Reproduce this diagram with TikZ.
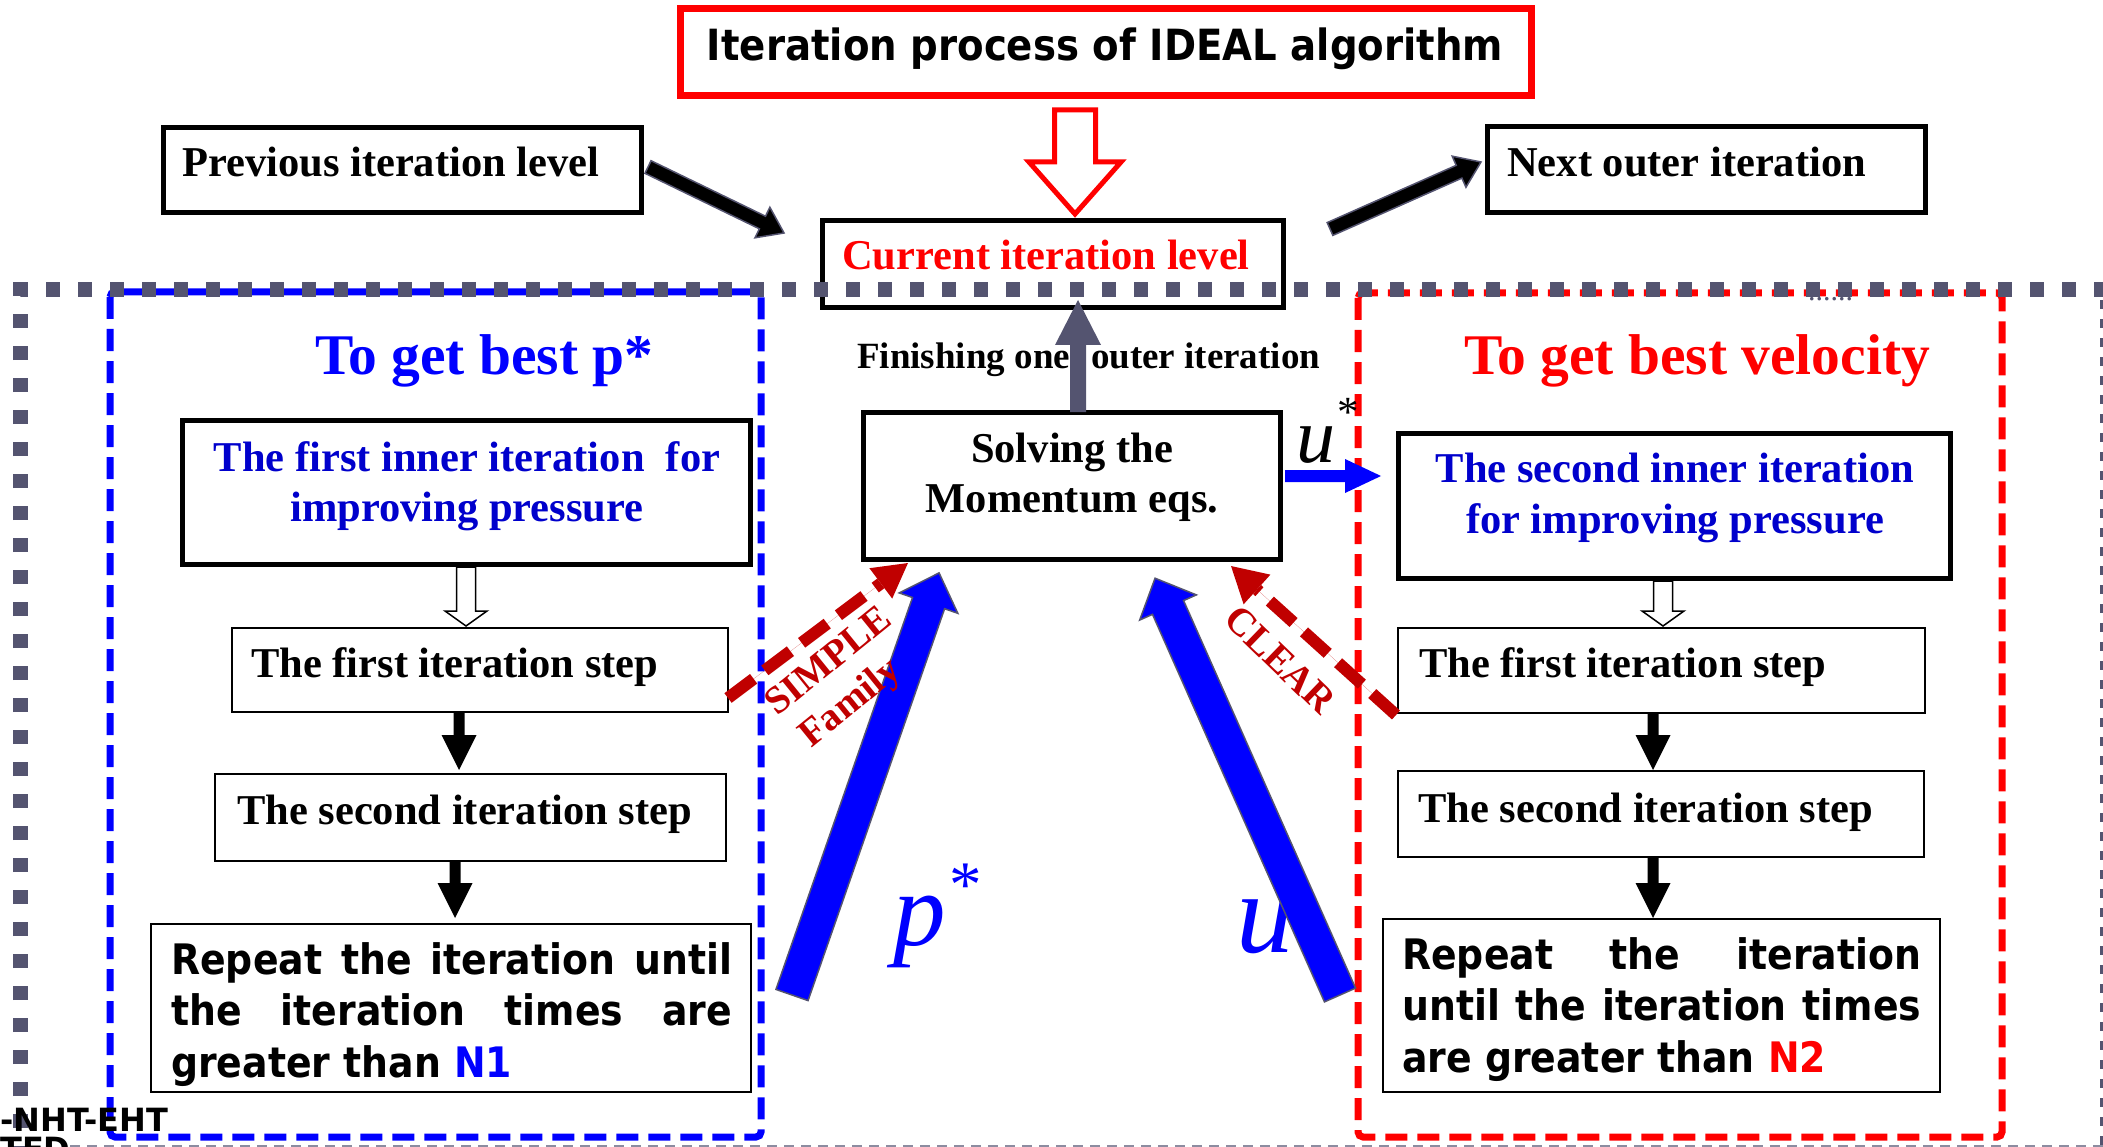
\documentclass[tikz,border=0pt]{standalone}
\usepackage{fontspec}
\setmainfont{Liberation Serif}
\newfontfamily\sansB[FakeStretch=0.9]{DejaVu Sans}
\newfontfamily\sansN{DejaVu Sans}
\usetikzlibrary{calc}
\definecolor{dotgray}{RGB}{84,84,112}
\definecolor{dred}{RGB}{192,0,0}
\definecolor{dblue}{RGB}{0,0,204}
\definecolor{lgray}{RGB}{140,140,160}
% block arrow: #1 style, #2 tail, #3 angle, #4 shaft half width, #5 length, #6 head half width, #7 head length
\newcommand\blk[7]{\path[#1,shift={(#2)},rotate=#3] (0,-#4) -- ({#5-#7},-#4) -- ({#5-#7},-#6) -- (#5,0) -- ({#5-#7},#6) -- ({#5-#7},#4) -- (0,#4) -- cycle;}
\begin{document}
\begin{tikzpicture}[x=1pt,y=-1pt,
  box/.style={draw=black, line width=5pt, fill=white, inner sep=0pt, rectangle},
  thinbox/.style={draw=black, line width=2.5pt, fill=white, inner sep=0pt, rectangle},
  lbl/.style={inner sep=0pt, anchor=base west},
  serifB/.style={font={\fontsize{42.5}{50}\selectfont\bfseries}},
  sansT/.style={font={\sansB\bfseries\fontsize{42}{51.5}\selectfont}},
  bigT/.style={font={\fontsize{57.5}{60}\selectfont\bfseries}},
  rlabel/.style={font={\fontsize{39}{39}\selectfont\bfseries}, text=dred, inner sep=0pt},
  reddash/.style={dred, line width=12pt, dash pattern=on 32pt off 14pt},
  hollow/.style={fill=white, draw=black, line width=1.5pt},
  solid/.style={fill=black},
]
\useasboundingbox (0,0) rectangle (2103,1147);

% coloured dashed regions
\draw[blue, line width=7pt, dash pattern=on 22pt off 10pt, rounded corners=5pt] (110,292) rectangle (761,1137);
\draw[red, line width=7pt, dash pattern=on 22pt off 10pt, rounded corners=5pt] (1358,293) rectangle (2002,1137);

% boxes
\node[box, draw=red, line width=7pt, minimum width=851pt, minimum height=87pt] (title) at (1106,52) {};
\node[box, minimum width=478pt, minimum height=85pt] (prev) at (402.5,170) {};
\node[box, minimum width=461pt, minimum height=87pt] (cur) at (1053,264) {};
\node[box, minimum width=438pt, minimum height=86pt] (next) at (1706.5,169.5) {};
\node[box, minimum width=417pt, minimum height=147pt] (solve) at (1072,486) {};
\node[box, minimum width=568pt, minimum height=144pt] (in1) at (466.5,492.5) {};
\node[box, minimum width=552pt, minimum height=145pt] (in2) at (1674.5,506) {};
\node[thinbox, minimum width=496pt, minimum height=84pt] (s1L) at (480,670) {};
\node[thinbox, minimum width=511pt, minimum height=87pt] (s2L) at (470.5,817.5) {};
\node[thinbox, minimum width=600pt, minimum height=168pt] (repL) at (451,1008) {};
\node[thinbox, minimum width=527pt, minimum height=85pt] (s1R) at (1661.5,670.5) {};
\node[thinbox, minimum width=526pt, minimum height=86pt] (s2R) at (1661,814) {};
\node[thinbox, minimum width=557pt, minimum height=173pt] (repR) at (1661.5,1005.5) {};

% outer gray dotted frame
\draw[dotgray, line width=15pt, dash pattern=on 14pt off 18pt] (20,1160) -- (20,290) -- (2115,290);
\draw[dotgray, line width=8pt, dash pattern=on 9pt off 10pt] (2104,300) -- (2104,1147);
\draw[lgray, line width=2pt, dash pattern=on 10pt off 7pt] (70,1146) -- (2103,1146);

% texts in boxes
\node[inner sep=0pt, anchor=base, font={\sansB\bfseries\fontsize{43}{50}\selectfont}] (titleT) at (1105,61) {Iteration process of IDEAL algorithm};
\node[lbl, serifB] (prevT) at (182,177) {Previous iteration level};
\node[lbl, serifB, text=red] (curT) at (842,270) {Current iteration level};
\node[lbl, serifB] (nextT) at (1507,177) {Next outer iteration};
\node[lbl, font={\fontsize{37}{44}\selectfont\bfseries}] (finT) at (857,368) {Finishing one\hspace{21pt}outer iteration};
\node[inner sep=0pt, anchor=north, align=center, serifB] (solveT) at (1072,433) {Solving the\\Momentum eqs.};
\node[inner sep=0pt, anchor=north, align=center, serifB, text=dblue] (in1T) at (467,441) {The first inner iteration\ \ for\\improving pressure};
\node[inner sep=0pt, anchor=north, align=center, font={\fontsize{42.5}{51}\selectfont\bfseries}, text=dblue] (in2T) at (1675,453) {The second inner iteration\\for improving pressure};
\node[lbl, serifB] (s1LT) at (251,677) {The first iteration step};
\node[lbl, serifB] (s2LT) at (237,824) {The second iteration step};
\node[lbl, serifB] (s1RT) at (1419,677) {The first iteration step};
\node[lbl, serifB] (s2RT) at (1418,822) {The second iteration step};
\node[inner sep=0pt, anchor=north west, align=left, sansT] (repLT) at (171,942)
  {\makebox[561pt][s]{Repeat the iteration until}\\\makebox[561pt][s]{the iteration times are}\\greater than \textcolor{blue}{N1}};
\node[inner sep=0pt, anchor=north west, align=left, sansT] (repRT) at (1402,937)
  {\makebox[519pt][s]{Repeat the iteration}\\\makebox[519pt][s]{until the iteration times}\\are greater than \textcolor{red}{N2}};
\node[lbl, bigT, text=blue] (tpT) at (315,374) {To get best p*};
\node[lbl, bigT, text=red] (tvT) at (1464,374) {To get best velocity};
\node[lbl, font={\fontsize{30}{30}\selectfont}, text=dotgray] (dotsT) at (1808,301) {......};
\node[lbl, font={\sansN\bfseries\fontsize{32}{32}\selectfont}] (wm1) at (0,1131) {-NHT-EHT};
\node[lbl, font={\sansN\bfseries\fontsize{32}{32}\selectfont}] (wm2) at (0,1160) {TED};

% big italic labels (under arrows)
\node[lbl, font={\fontsize{105}{105}\selectfont\itshape}, text=blue] (pT) at (893,945) {p};
\node[inner sep=0pt, font={\fontsize{65}{65}\selectfont}, text=blue] (pAst) at (966,885) {*};
\node[lbl, font={\fontsize{115}{115}\selectfont\itshape}, text=blue] (uT) at (1236,952) {u};
\node[lbl, font={\fontsize{78}{78}\selectfont\itshape}] (usT) at (1296,462) {u};
\node[inner sep=0pt, font={\fontsize{43}{43}\selectfont}] (usAst) at (1348,412) {*};

% arrow tails
\coordinate (aPrev) at (648,167);
\coordinate (aNext) at (1330,229);
\coordinate (aTitle) at (1075,110);
\coordinate (aUp) at (1078,412);
\coordinate (aU) at (1285,476);
\coordinate (aH1) at (466,567);
\coordinate (aH2) at (1663,581);
\coordinate (aK1) at (459,713);
\coordinate (aK2) at (455,862);
\coordinate (aK3) at (1653,714);
\coordinate (aK4) at (1653,858);
\coordinate (aP) at (792,995);
\coordinate (aUu) at (1340,995);
\coordinate (sTail) at (728,698);
\coordinate (sBase) at (880.8,583.4);
\coordinate (cTail) at (1396,715);
\coordinate (cBase) at (1257,589.5);

% arrows
\blk{fill=black, draw=dotgray, line width=1.5pt}{aPrev}{-25.88}{7}{151.2}{17}{24}
\blk{fill=black, draw=dotgray, line width=1.5pt}{aNext}{23.93}{7}{165.2}{17}{24}
\blk{fill=white, draw=red, line width=5pt}{aTitle}{-90}{20.5}{104}{46}{52}
\blk{fill=dotgray}{aUp}{90}{8}{112}{23}{45}
\blk{fill=blue}{aU}{0}{6}{96}{17}{36}
\blk{hollow}{aH1}{-90}{9.5}{59}{21}{15}
\blk{hollow}{aH2}{-90}{9.5}{45}{21}{15}
\blk{solid}{aK1}{-90}{5.5}{57}{17.5}{35}
\blk{solid}{aK2}{-90}{5.5}{56}{17.5}{35}
\blk{solid}{aK3}{-90}{5.5}{56}{17.5}{35}
\blk{solid}{aK4}{-90}{5.5}{60}{17.5}{35}
\blk{fill=blue, draw=dotgray, line width=1.5pt}{aP}{70.79}{17}{447}{31}{32}
\blk{fill=blue, draw=dotgray, line width=1.5pt}{aUu}{113.93}{17}{456}{31}{32}

% red dashed arrows
\draw[reddash] (sTail) -- (sBase);
\blk{fill=dred}{sTail}{36.87}{0}{225}{19}{34}
\draw[reddash] (cTail) -- (cBase);
\blk{fill=dred}{cTail}{137.92}{0}{222.3}{20}{35}

% red labels
\node[rlabel, rotate=39] (simpleT) at (828,660) {SIMPLE};
\node[rlabel, rotate=39] (familyT) at (851,704) {Family};
\node[rlabel, rotate=-44] (clearT) at (1280,660) {CLEAR};
\end{tikzpicture}
\end{document}
